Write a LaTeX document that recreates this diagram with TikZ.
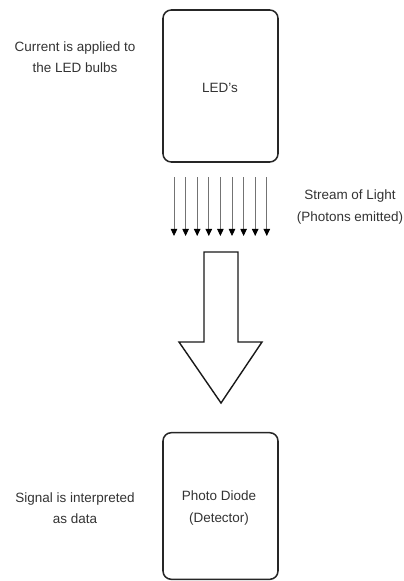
\documentclass[tikz,border=0pt]{standalone}
\usepackage{fontspec}
\setmainfont{Liberation Sans}
\usetikzlibrary{arrows.meta}
\begin{document}
\begin{tikzpicture}[x=0.03cm, y=-0.03cm, >={Triangle[length=6pt,width=5.5pt,color=black]},
    every node/.style={font=\fontsize{11.5}{18}\selectfont, text=black!80},
    devbox/.style={draw=black!85, line width=1.3pt, rounded corners=0.25cm, minimum width=3.45cm},
    note/.style={align=center}]
            \useasboundingbox (0,0) rectangle (404,581);
            % devices
            \node[devbox, minimum height=4.56cm] (led) at (220.5,86) {};
            \node at (220,88) (ledtxt) {LED's};
            \node[devbox, minimum height=4.4cm] (pd) at (220.5,506) {};
            \node[note] at (219,508) (pdtxt) {Photo Diode\\(Detector)};
            % side notes
            \node[note] at (75,57) (cur) {Current is applied to\\the LED bulbs};
            \node[note] at (350,207) (stream) {Stream of Light\\(Photons emitted)};
            \node[note] at (75,508) (sig) {Signal is interpreted\\as data};
            % light rays
            \foreach \i in {0,...,8} {
                \draw[->, black!55, line width=0.7pt] (174+11.6*\i,177) -- (174+11.6*\i,236);
            }
            % big arrow
            \draw[line width=1.2pt, black!90, line join=miter] (204,252) -- (238,252) -- (238,342) -- (262,342)
                -- (221,403) -- (179,342) -- (204,342) -- cycle;
        \end{tikzpicture}
\end{document}
